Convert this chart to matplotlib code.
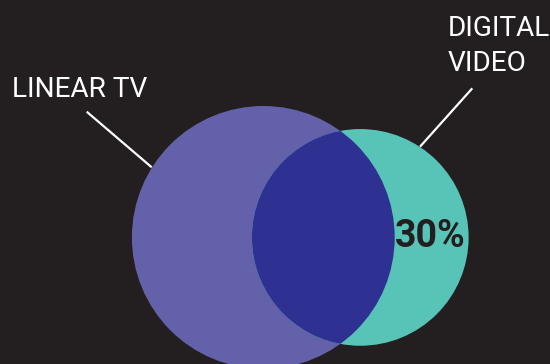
import numpy as np
import matplotlib
matplotlib.use("Agg")
import matplotlib.pyplot as plt
from matplotlib.patches import Circle

# Audience sets: relative reach (area) of each circle
sets = ["LINEAR TV", "DIGITAL\nVIDEO"]
reach = [100, 68]
digital_only_share = 30  # % of digital video viewers not reached by linear TV

BG = "#231F20"
C_LINEAR = "#6461AB"
C_DIGITAL = "#58C3B7"
C_OVERLAP = "#2E3192"

W, H = 550, 364
fig = plt.figure(figsize=(W / 100, H / 100), dpi=100, facecolor=BG)
ax = fig.add_axes([0, 0, 1, 1])
ax.set_facecolor(BG)
ax.set_xlim(0, W)
ax.set_ylim(H, 0)
ax.set_aspect("equal")
ax.axis("off")

# layout: pixel scale for a reach of 100, circle centres
unit = 131.4
cy = 237.4
cx_linear = 263.3
separation = 0.738 * unit

r_lin = unit * np.sqrt(reach[0] / 100)
r_dig = unit * np.sqrt(reach[1] / 100)
cx_dig = cx_linear + separation

lin = Circle((cx_linear, cy), r_lin, facecolor=C_LINEAR, edgecolor="none", zorder=1)
dig = Circle((cx_dig, cy), r_dig, facecolor=C_DIGITAL, edgecolor="none", zorder=2)
ax.add_patch(lin)
ax.add_patch(dig)

# overlap: the digital circle clipped to the linear circle
ov = Circle((cx_dig, cy), r_dig, facecolor=C_OVERLAP, edgecolor="none", zorder=3)
ax.add_patch(ov)
clip = Circle((cx_linear, cy), r_lin, transform=ax.transData)
ov.set_clip_path(clip)

font = ["Roboto", "DejaVu Sans"]

# set labels with leader lines
ax.text(12, 96.7, sets[0], color="white", fontsize=20.2, family=font,
        ha="left", va="baseline", zorder=5)
ax.plot([86.7, 151.7], [111.7, 167.3], color="white", lw=1.6,
        solid_capstyle="butt", zorder=5)

for i, line in enumerate(sets[1].split("\n")):
    ax.text(447.5, 36 + 35 * i, line, color="white", fontsize=20.2, family=font,
            ha="left", va="baseline", zorder=5)
ax.plot([472.3, 420.0], [88.3, 146.7], color="white", lw=1.6,
        solid_capstyle="butt", zorder=5)

# share of digital-only viewers
ax.text(430.3, 247.3, f"{digital_only_share}%", color=BG, fontsize=27,
        fontweight="bold", family=font, ha="center", va="baseline", zorder=6)

fig.savefig("out.png", dpi=100, facecolor=BG)
